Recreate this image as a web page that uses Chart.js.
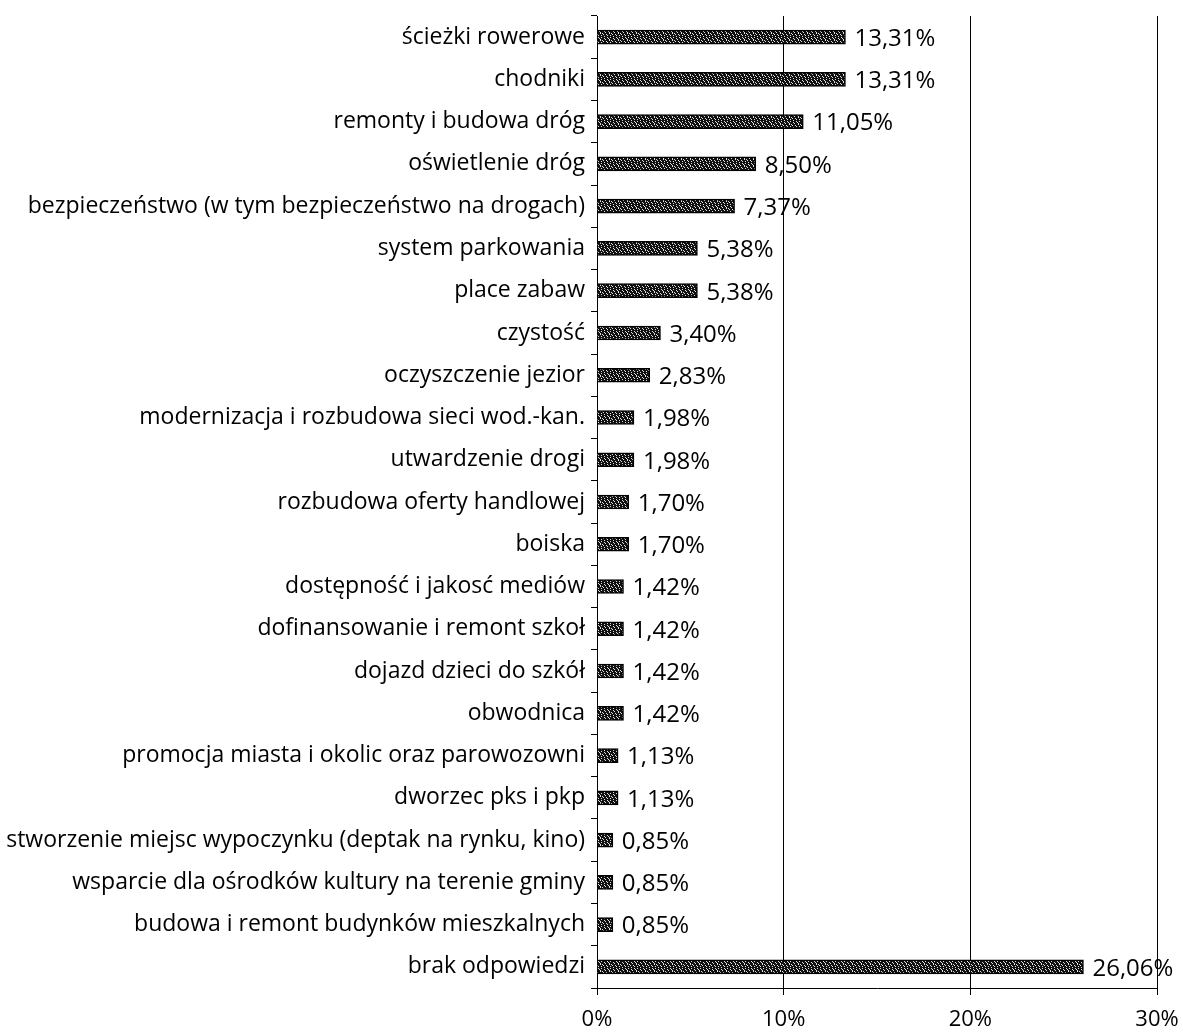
<!DOCTYPE html>
<html>
<head>
<meta charset="utf-8">
<script src="https://cdn.jsdelivr.net/npm/chart.js@4/dist/chart.umd.min.js"></script>
<style>
  html, body { margin: 0; padding: 0; background: #fff; }
  #wrap { width: 1183px; height: 1034px; }
</style>
</head>
<body>
<div id="wrap"><canvas id="chart" width="1183" height="1034"></canvas></div>
<script>
const categories = [
  'ścieżki rowerowe',
  'chodniki',
  'remonty i budowa dróg',
  'oświetlenie dróg',
  'bezpieczeństwo (w tym bezpieczeństwo na drogach)',
  'system parkowania',
  'place zabaw',
  'czystość',
  'oczyszczenie jezior',
  'modernizacja i rozbudowa sieci wod.-kan.',
  'utwardzenie drogi',
  'rozbudowa oferty handlowej',
  'boiska',
  'dostępność i jakosć mediów',
  'dofinansowanie i remont szkoł',
  'dojazd dzieci do szkół',
  'obwodnica',
  'promocja miasta i okolic oraz parowozowni',
  'dworzec pks i pkp',
  'stworzenie miejsc wypoczynku (deptak na rynku, kino)',
  'wsparcie dla ośrodków kultury na terenie gminy',
  'budowa i remont budynków mieszkalnych',
  'brak odpowiedzi'
]
const shares = [13.31, 13.31, 11.05, 8.50, 7.37, 5.38, 5.38, 3.40, 2.83, 1.98, 1.98, 1.70, 1.70,
  1.42, 1.42, 1.42, 1.42, 1.13, 1.13, 0.85, 0.85, 0.85, 26.06]
const xTicks = [0, 10, 20, 30]

const FONT = '"Open Sans"'

// speckled black fill like the scanned bars
const makePattern = function () {
  const c = document.createElement('canvas')
  c.width = 9
  c.height = 7
  const g = c.getContext('2d')
  g.fillStyle = '#111'
  g.fillRect(0, 0, 9, 7)
  g.fillStyle = '#e0e0e0'
  const dots = [[1,1],[4,0],[7,2],[2,4],[5,3],[8,5],[0,6],[3,6],[6,5],[4,2],[1,3],[7,0],[6,4]]
  dots.forEach(([x, y]) => g.fillRect(x, y, 1, 1))
  return g.createPattern(c, 'repeat')
}

const fmt = (v) => v.toFixed(2).replace('.', ',') + '%'

const valueLabels = {
  id: 'valueLabels',
  afterDatasetsDraw(chart) {
    const ctx = chart.ctx
    const meta = chart.getDatasetMeta(0)
    ctx.save()
    ctx.font = '24px ' + FONT
    ctx.fillStyle = '#000'
    ctx.textBaseline = 'middle'
    ctx.textAlign = 'left'
    meta.data.forEach((bar, i) => {
      ctx.fillText(fmt(shares[i]), bar.x + 9, bar.y + 2)
    })
    ctx.restore()
  }
}

const init = function () {
  const ctx = document.querySelector('#chart')
  new Chart(ctx, {
    type: 'bar',
    data: {
      labels: categories,
      datasets: [{
        data: shares,
        backgroundColor: makePattern(),
        borderColor: '#000',
        borderWidth: 1.5,
        barThickness: 14,
      }],
    },
    options: {
      indexAxis: 'y',
      responsive: false,
      animation: false,
      layout: { padding: { top: 16, right: 26, bottom: 0, left: 0 } },
      plugins: { legend: { display: false }, tooltip: { enabled: false } },
      scales: {
        x: {
          min: 0,
          max: 30,
          afterBuildTicks: (scale) => { scale.ticks = xTicks.map((v) => ({ value: v })) },
          afterFit: (scale) => {
            scale.height = 46
            scale.paddingLeft = 0
            scale.paddingRight = 0
          },
          grid: { color: '#000', lineWidth: 1, tickLength: 7, drawTicks: true },
          border: { color: '#000', width: 1 },
          ticks: {
            color: '#000',
            font: { family: FONT, size: 22 },
            padding: 12,
            callback: (v) => v + '%',
          },
        },
        y: {
          afterFit: (scale) => {
            scale.width = 597
            scale.paddingTop = 0
            scale.paddingBottom = 0
          },
          grid: { offset: true, drawOnChartArea: false, color: '#000', tickLength: 6 },
          border: { color: '#000', width: 1 },
          ticks: {
            color: '#000',
            font: { family: FONT, size: 23 },
            padding: 6,
            autoSkip: false,
          },
        },
      },
    },
    plugins: [valueLabels],
  })
}

document.addEventListener('DOMContentLoaded', init)
</script>
</body>
</html>
